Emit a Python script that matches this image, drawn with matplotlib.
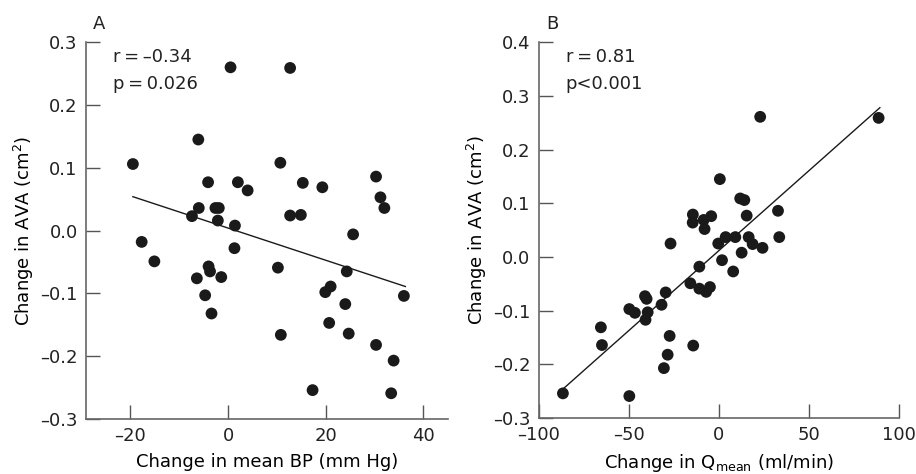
import matplotlib

matplotlib.use("Agg")
import matplotlib.pyplot as plt

# Panel A: change in mean BP (mm Hg) vs change in AVA (cm2)
bp_change = [
    -19.5, -17.7, -15.1, -7.4, -6.1, -6.0, -6.4, -4.7, -4.1, -4.0, -3.7,
    -3.4, -2.6, -1.9, -2.1, -1.4, 0.5, 1.4, 1.3, 2.0, 4.0, 10.2, 10.7,
    10.8, 12.7, 12.7, 14.9, 15.3, 17.3, 19.3, 19.9, 21.0, 20.7, 24.0,
    24.3, 24.7, 25.6, 30.3, 30.3, 31.2, 32.0, 33.9, 33.4, 36.0,
]
ava_a = [
    0.106, -0.018, -0.049, 0.023, 0.145, 0.036, -0.076, -0.103, 0.077,
    -0.057, -0.065, -0.132, 0.036, 0.036, 0.016, -0.074, 0.260, 0.008,
    -0.028, 0.077, 0.064, -0.059, 0.108, -0.166, 0.259, 0.024, 0.025,
    0.076, -0.254, 0.069, -0.098, -0.089, -0.147, -0.117, -0.065, -0.164,
    -0.006, 0.086, -0.182, 0.053, 0.036, -0.207, -0.259, -0.104,
]
fit_a_x = [-19.5, 36.3]
fit_a_y = [0.054, -0.089]

# Panel B: change in Qmean (ml/min) vs change in AVA (cm2)
q_change = [
    -86.5, -65.4, -64.8, -49.6, -49.6, -46.5, -40.9, -40.0, -40.6, -39.4,
    -31.7, -30.4, -29.4, -28.3, -27.2, -26.7, -15.7, -14.3, -14.4, -14.1,
    -10.7, -10.7, -8.3, -7.8, -6.9, -4.8, -4.1, 0.7, -0.2, 1.9, 3.9, 8.1,
    9.3, 12.0, 14.3, 12.8, 15.6, 16.7, 18.9, 23.1, 24.4, 33.0, 33.7, 88.9,
]
ava_b = [
    -0.254, -0.131, -0.164, -0.097, -0.259, -0.104, -0.073, -0.078, -0.117,
    -0.103, -0.089, -0.207, -0.066, -0.182, -0.147, 0.025, -0.049, 0.079,
    0.064, -0.165, -0.018, -0.059, 0.069, 0.052, -0.065, -0.056, 0.076,
    0.145, 0.025, -0.006, 0.037, -0.027, 0.037, 0.109, 0.106, 0.008, 0.077,
    0.037, 0.024, 0.261, 0.017, 0.086, 0.037, 0.259,
]
fit_b_x = [-86.5, 89.6]
fit_b_y = [-0.246, 0.278]

plt.rcParams["font.family"] = ["DejaVu Sans"]
plt.rcParams["font.size"] = 13
plt.rcParams["text.color"] = "#222222"

fig = plt.figure(figsize=(9.16, 4.74), dpi=100)
ax_a = fig.add_axes([0.0939, 0.116, 0.395, 0.795])
ax_b = fig.add_axes([0.588, 0.118, 0.393, 0.793])

panels = [
    (ax_a, bp_change, ava_a, fit_a_x, fit_a_y, "A",
     ["r\u2009=\u2009\u20130.34", "p\u2009=\u20090.026"],
     "Change in mean BP (mm Hg)", (-29.1, 45.0), (-0.3, 0.3),
     [-20, 0, 20, 40]),
    (ax_b, q_change, ava_b, fit_b_x, fit_b_y, "B",
     ["r\u2009=\u20090.81", "p<0.001"],
     r"Change in Q$_{\mathrm{mean}}$ (ml/min)", (-100, 100), (-0.3, 0.4),
     [-100, -50, 0, 50, 100]),
]

for ax, xs, ys, fx, fy, tag, stats, xlabel, xlim, ylim, xticks in panels:
    ax.scatter(xs, ys, s=72, color="#1a1a1a", edgecolors="none", zorder=3)
    ax.plot(fx, fy, color="#1a1a1a", lw=1.0, zorder=2)
    ax.set_xlim(*xlim)
    ax.set_ylim(*ylim)
    ax.set_xticks(xticks)
    yt = [round(ylim[0] + 0.1 * i, 1) for i in range(int(round((ylim[1] - ylim[0]) / 0.1)) + 1)]
    ax.set_yticks(yt)
    ax.set_yticklabels([f"{v:.1f}".replace("-", "\u2013") for v in yt])
    ax.set_xticklabels([str(v).replace("-", "\u2013") for v in xticks])
    for side in ("top", "right"):
        ax.spines[side].set_visible(False)
    for side in ("left", "bottom"):
        ax.spines[side].set_color("#666666")
        ax.spines[side].set_linewidth(1.2)
    ax.tick_params(direction="in", length=10, width=1.0, color="#555555",
                   labelcolor="#222222", labelsize=13, pad=6)
    ax.set_xlabel(xlabel, fontsize=13, labelpad=5.5)
    ax.set_ylabel("Change in AVA (cm$^2$)", fontsize=13, labelpad=3)
    ax.text(0.02, 1.025, tag, transform=ax.transAxes, fontsize=13,
            ha="left", va="bottom")
    ax.text(0.075, 0.96, stats[0], transform=ax.transAxes, fontsize=13,
            ha="left", va="center")
    ax.text(0.075, 0.89, stats[1], transform=ax.transAxes, fontsize=13,
            ha="left", va="center")

fig.savefig("out.png", dpi=100)
